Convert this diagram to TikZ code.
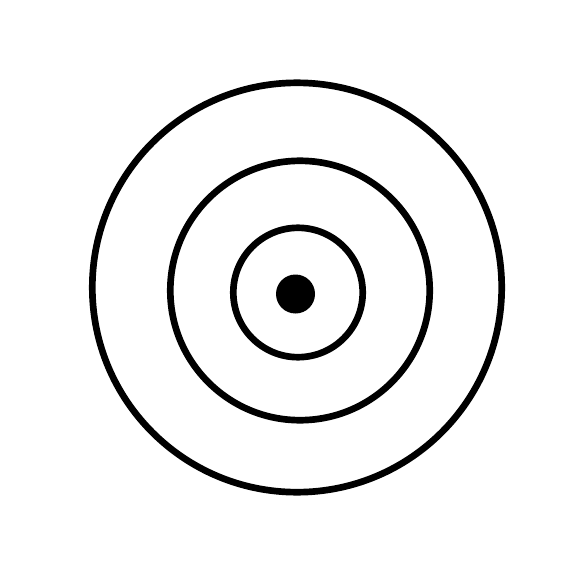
\documentclass[tikz,border=0pt]{standalone}
\usepackage{tikz}
\usetikzlibrary{calc}

\begin{document}
\begin{tikzpicture}[x=0.02cm,y=-0.02cm,ring/.style={line width=3.8pt}]
  \useasboundingbox (0,0) rectangle (578,587);
  % Centres of the rings and of the bull's eye
  \coordinate (Outer) at (297,287.5);
  \coordinate (Middle) at (300,290.5);
  \coordinate (Inner) at (298,292.5);
  \coordinate (Eye) at (295.5,294);
  % Rings
  \draw[ring] (Outer) circle[radius=204.7];
  \draw[ring] (Middle) circle[radius=129.7];
  \draw[ring] (Inner) circle[radius=64.7];
  % Bull's eye
  \fill (Eye) circle[radius=19.5];
\end{tikzpicture}
\end{document}
